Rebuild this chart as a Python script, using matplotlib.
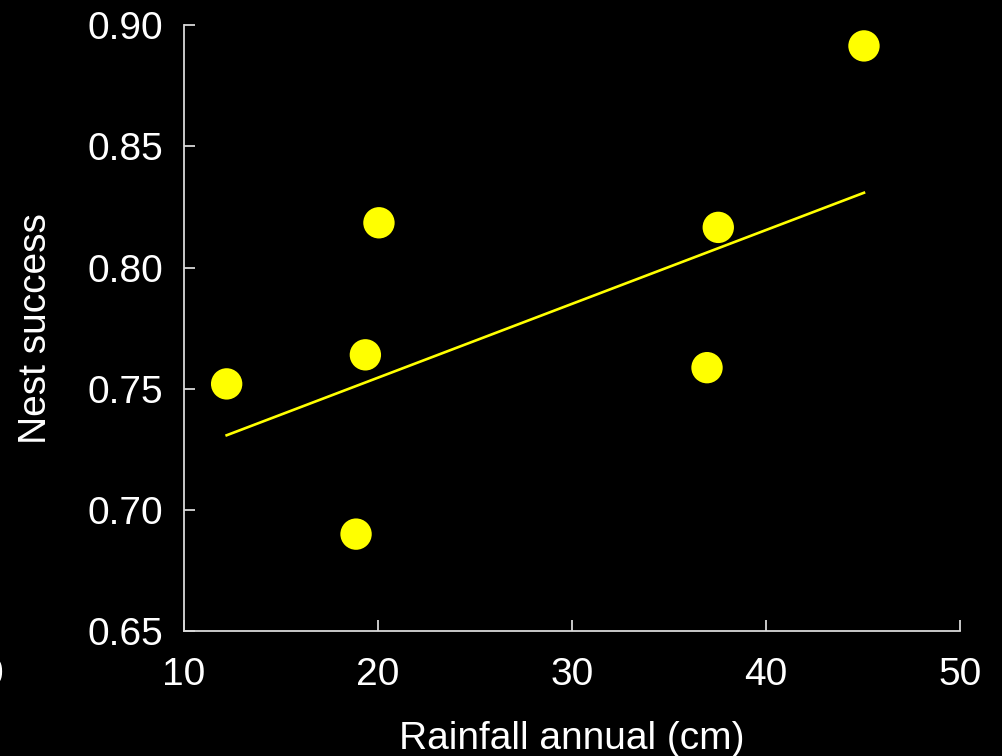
import matplotlib
matplotlib.use("Agg")
import matplotlib.pyplot as plt
import matplotlib.transforms as mtransforms

# Annual rainfall vs. nest success
rainfall_cm = [12.2, 18.87, 19.35, 20.05, 36.96, 37.54, 45.05]
nest_success = [0.752, 0.690, 0.764, 0.8185, 0.7587, 0.8166, 0.8915]

# Linear trend line endpoints
trend_x = [12.2, 45.05]
trend_y = [0.7308, 0.8309]

x_ticks = [10, 20, 30, 40, 50]
y_ticks = [0.65, 0.70, 0.75, 0.80, 0.85, 0.90]

plt.rcParams['font.family'] = ['Liberation Sans', 'DejaVu Sans']

fig = plt.figure(figsize=(10.02, 7.56), dpi=100, facecolor='black')
ax = fig.add_axes([0.1836, 0.1653, 0.9581 - 0.1836, 0.9665 - 0.1653])
ax.set_facecolor('black')

ax.plot(trend_x, trend_y, color='#FFFF00', lw=1.9, zorder=2)
ax.scatter(rainfall_cm, nest_success, s=510, color='#FFFF00',
           edgecolors='none', zorder=3, clip_on=False)

ax.set_xlim(10, 50)
ax.set_ylim(0.65, 0.90)
ax.set_xticks(x_ticks)
ax.set_yticks(y_ticks)
ax.set_xticklabels([str(t) for t in x_ticks])
ax.set_yticklabels([f"{t:.2f}" for t in y_ticks])

spine_color = '#D9D9D9'
for side in ['top', 'right']:
    ax.spines[side].set_visible(False)
for side in ['left', 'bottom']:
    ax.spines[side].set_color(spine_color)
    ax.spines[side].set_linewidth(1.3)

ax.tick_params(axis='both', direction='in', length=8, width=1.3,
               color=spine_color, labelcolor='white', labelsize=28)
ax.tick_params(axis='y', pad=15)
ax.tick_params(axis='x', pad=19)

# Origin label of the rainfall scale, just past the left edge
offset = mtransforms.ScaledTranslation(2 / 100, -19 / 72, fig.dpi_scale_trans)
trans = mtransforms.blended_transform_factory(ax.transData, ax.transAxes) + offset
ax.text(0, 0, '0', transform=trans, color='white', fontsize=28,
        ha='center', va='top', clip_on=False)

ax.set_xlabel('Rainfall annual (cm)', color='white', fontsize=28, labelpad=20)
ax.set_ylabel('Nest success', color='white', fontsize=28, labelpad=24)

fig.savefig('out.png', dpi=100, facecolor='black')
